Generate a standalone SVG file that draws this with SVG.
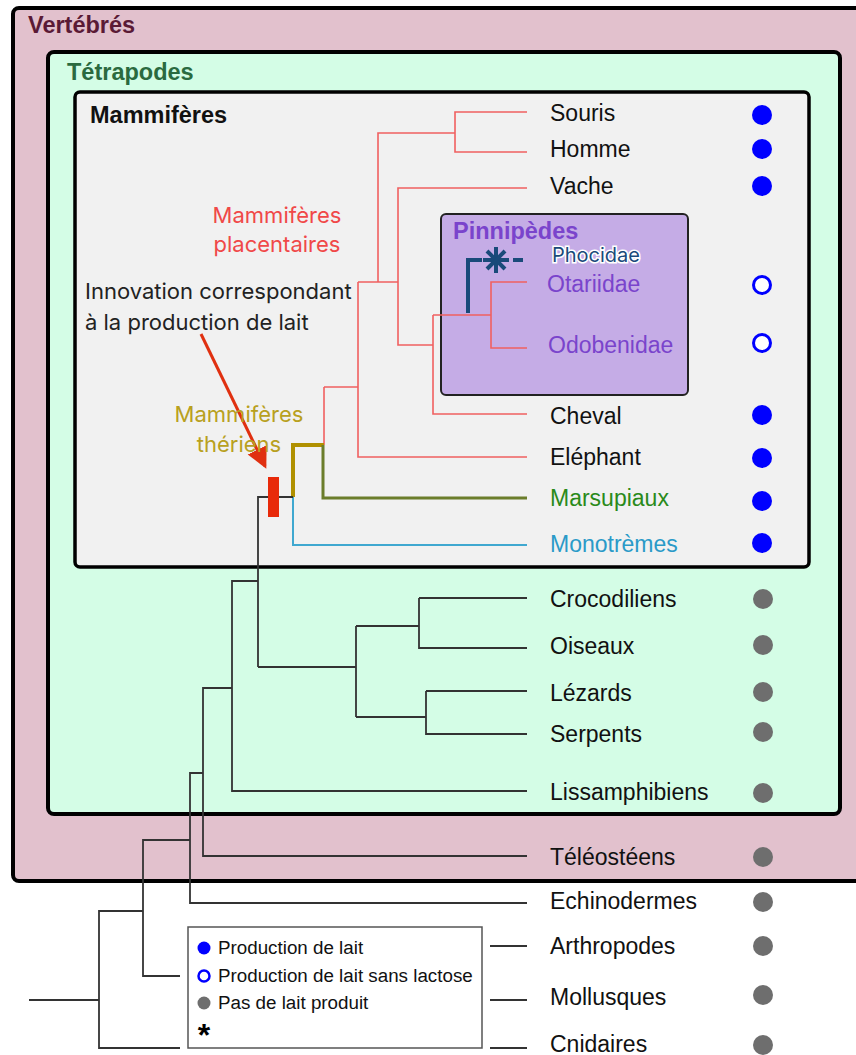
<svg xmlns="http://www.w3.org/2000/svg" width="856" height="1055" viewBox="0 0 856 1055">
<style>
.lbl{font-family:"Liberation Sans",Arial,sans-serif;font-size:23px;fill:#111}
.hdr{font-family:"Liberation Sans",Arial,sans-serif;font-size:23.5px;font-weight:bold}
.ann{font-family:Inter,"Liberation Sans",sans-serif;font-size:22px}
.leg{font-family:"Liberation Sans",Arial,sans-serif;font-size:18.8px;fill:#111}
.blk{stroke:#333;stroke-width:1.8;fill:none}
.red{stroke:#f06060;stroke-width:1.6;fill:none}
.dot{fill:#0000ff}
.odot{fill:#fff;stroke:#0000ff;stroke-width:3}
.gdot{fill:#6e6e6e}
</style>
<defs>
<marker id="arr" markerWidth="8" markerHeight="8" refX="6" refY="4" orient="auto" markerUnits="strokeWidth">
<path d="M0,0.5 L7,4 L0,7.5 Z" fill="#e03010"/>
</marker>
</defs>
<rect width="856" height="1055" fill="#ffffff"/>
<g id="vertebres">
<rect x="13" y="8" width="870" height="873" rx="6" fill="#e2c1cd" stroke="#000" stroke-width="4"/>
<text class="hdr" x="28" y="33" fill="#5a1a35">Vertébrés</text>
</g>
<g id="tetrapodes">
<rect x="48" y="52" width="792" height="762" rx="6" fill="#d4fde6" stroke="#000" stroke-width="4"/>
<text class="hdr" x="67" y="80" fill="#2a6a3f">Tétrapodes</text>
</g>
<g id="mammiferes">
<rect x="75" y="92" width="734" height="475" rx="5" fill="#f1f1f1" stroke="#000" stroke-width="3.5"/>
<text class="hdr" x="90" y="123" fill="#111">Mammifères</text>
</g>
<g id="pinnipedes">
<rect x="441" y="214" width="247" height="181" rx="5" fill="#c5ace6" stroke="#222" stroke-width="2"/>
<text class="hdr" x="453" y="239" fill="#7a44cc">Pinnipèdes</text>
</g>
<g id="connectors">
<path class="red" d="M527,112 H455 V152 H527 M455,133 H378 V282 M527,188 H398 V345 H433 M358,282 H398 M358,282 V457 H527 M324,387 H358 M324,387 V445 M433,315 V414 H527 M433,315 H491 M527,282 H491 V348 H527"/>
<path d="M468,313 V260 H482" stroke="#1a4a7a" stroke-width="4" fill="none"/>
<path d="M513,260 H523" stroke="#1a4a7a" stroke-width="4" fill="none"/>
<g stroke="#1a4a7a" stroke-width="4" stroke-linecap="butt">
<line x1="496" y1="247" x2="496" y2="273"/>
<line x1="483" y1="260" x2="509" y2="260"/>
<line x1="487" y1="251" x2="505" y2="269"/>
<line x1="505" y1="251" x2="487" y2="269"/>
</g>
<path d="M293,497 V445 H324" stroke="#b09000" stroke-width="4" fill="none"/>
<path d="M323,445 V498 H527" stroke="#6b7d2b" stroke-width="3" fill="none"/>
<path d="M293,497 V545 H527" stroke="#40a8d0" stroke-width="2" fill="none"/>
<path class="blk" d="M258,667 V497 H293 M258,667 H356 M356,626 V717 M356,626 H419 M419,598 V648 H527 M419,598 H527 M356,717 H426 M426,691 V734 H527 M426,691 H527 M258,581 H232 V791 H527 M232,688 H203 V856 H527 M203,773 H190 V903 H527 M190,840 H143 V976 H180 M143,911 H99 V1048 H180 M29,1000 H99 M490,946 H527 M490,1000 H527 M490,1048 H527"/>
<rect x="268" y="477" width="11" height="40" fill="#e82a0a"/>
<line x1="201" y1="334" x2="265" y2="466" stroke="#e03010" stroke-width="3" marker-end="url(#arr)"/>
</g>
<g id="annotations">
<text class="ann" x="85" y="299" fill="#222">Innovation correspondant</text>
<text class="ann" x="85" y="330" fill="#222">à la production de lait</text>
<text class="ann" x="277" y="223" fill="#f04848" text-anchor="middle">Mammifères</text>
<text class="ann" x="277" y="252" fill="#f04848" text-anchor="middle">placentaires</text>
<text class="ann" x="239" y="422" fill="#b8a020" text-anchor="middle">Mammifères</text>
<text class="ann" x="239" y="452" fill="#b8a020" text-anchor="middle">thériens</text>
</g>
<g id="leaves">
<text class="lbl" x="550" y="121">Souris</text>
<text class="lbl" x="550" y="157">Homme</text>
<text class="lbl" x="550" y="194">Vache</text>
<text x="552" y="262" font-family="Inter,'Liberation Sans',sans-serif" font-size="20" fill="#1a4a7a" stroke="#fff" stroke-width="3" paint-order="stroke">Phocidae</text>
<text class="lbl" x="547" y="292" style="fill:#7a44cc">Otariidae</text>
<text class="lbl" x="548" y="353" style="fill:#7a44cc">Odobenidae</text>
<text class="lbl" x="550" y="424">Cheval</text>
<text class="lbl" x="550" y="465">Eléphant</text>
<text class="lbl" x="550" y="506" style="fill:#2a8a1a">Marsupiaux</text>
<text class="lbl" x="550" y="552" style="fill:#2a9ac8">Monotrèmes</text>
<text class="lbl" x="550" y="607">Crocodiliens</text>
<text class="lbl" x="550" y="654">Oiseaux</text>
<text class="lbl" x="550" y="701">Lézards</text>
<text class="lbl" x="550" y="742">Serpents</text>
<text class="lbl" x="550" y="800">Lissamphibiens</text>
<text class="lbl" x="550" y="865">Téléostéens</text>
<text class="lbl" x="550" y="909">Echinodermes</text>
<text class="lbl" x="550" y="954">Arthropodes</text>
<text class="lbl" x="550" y="1005">Mollusques</text>
<text class="lbl" x="550" y="1052">Cnidaires</text>
</g>
<g id="dots">
<circle class="dot" cx="762" cy="115" r="10"/>
<circle class="dot" cx="762" cy="149" r="10"/>
<circle class="dot" cx="762" cy="186" r="10"/>
<circle class="odot" cx="762" cy="285" r="8.5"/>
<circle class="odot" cx="762" cy="343" r="8.5"/>
<circle class="dot" cx="762" cy="415" r="10"/>
<circle class="dot" cx="762" cy="458" r="10"/>
<circle class="dot" cx="762" cy="501" r="10"/>
<circle class="dot" cx="762" cy="543" r="10"/>
<circle class="gdot" cx="763" cy="599" r="10"/>
<circle class="gdot" cx="763" cy="645" r="10"/>
<circle class="gdot" cx="763" cy="692" r="10"/>
<circle class="gdot" cx="763" cy="732" r="10"/>
<circle class="gdot" cx="763" cy="793" r="10"/>
<circle class="gdot" cx="763" cy="857" r="10"/>
<circle class="gdot" cx="763" cy="902" r="10"/>
<circle class="gdot" cx="763" cy="946" r="10"/>
<circle class="gdot" cx="763" cy="995" r="10"/>
<circle class="gdot" cx="763" cy="1045" r="10"/>
</g>
<g id="legend">
<rect x="188" y="927" width="294" height="121" fill="#fff" stroke="#555" stroke-width="1.5"/>
<circle class="dot" cx="204" cy="948" r="6.5"/>
<text class="leg" x="218" y="954">Production de lait</text>
<circle class="odot" cx="204" cy="976" r="5.5" style="stroke-width:2.5"/>
<text class="leg" x="218" y="982">Production de lait sans lactose</text>
<circle class="gdot" cx="204" cy="1003" r="6.5"/>
<text class="leg" x="218" y="1009">Pas de lait produit</text>
<text x="204" y="1046" font-family="'Liberation Sans',Arial,sans-serif" font-size="32" font-weight="bold" text-anchor="middle" fill="#000">*</text>
</g>
</svg>
